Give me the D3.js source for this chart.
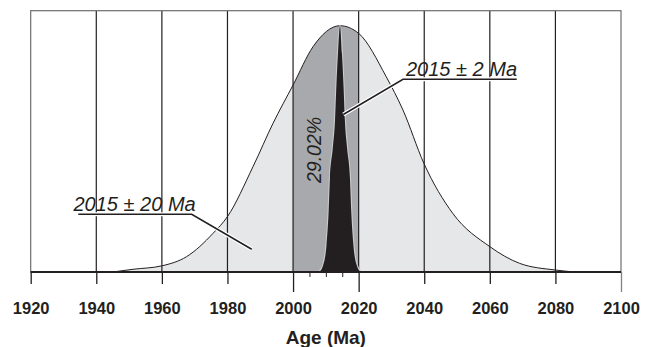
<!DOCTYPE html>
<html>
<head>
<meta charset="utf-8">
<script src="https://cdn.jsdelivr.net/npm/d3@7"></script>
<style>
  html, body { margin: 0; padding: 0; background: #fff; }
  svg text { font-family: "Liberation Sans", Arial, Helvetica, sans-serif; fill: #231f20; }
</style>
</head>
<body>
<div id="chart"></div>
<script>
// Wide distribution (2015 ± 20 Ma), relative density
const wideAge = [1945, 1951.2, 1960, 1967.5, 1975.6, 1980, 1987.8, 1993.9, 2000, 2006.1, 2014.3,
                 2020, 2028.4, 2033.5, 2039.9, 2048.7, 2060, 2069.1, 2080, 2086];
const wideDensity = [0, 0.011, 0.025, 0.062, 0.157, 0.225, 0.428, 0.604, 0.759, 0.915, 1,
                     0.969, 0.793, 0.658, 0.441, 0.238, 0.103, 0.035, 0.008, 0];

// Narrow distribution (2015 ± 2 Ma)
const narrowAge = [2008.0, 2009.2, 2010.2, 2010.85, 2011.25, 2012.1, 2012.8, 2013.2, 2013.7, 2014.3,
                   2014.9, 2015.4, 2015.8, 2016.5, 2017.35, 2017.75, 2018.4, 2019.4, 2020.6];
const narrowDensity = [0, 0.028, 0.11, 0.245, 0.38, 0.5, 0.617, 0.752, 0.888, 1,
                       0.888, 0.752, 0.617, 0.5, 0.38, 0.245, 0.11, 0.028, 0];

// shaded interval and its share
const bandRange = [2000, 2020];
const bandLabel = '29.02%';

const xTicks = [1920, 1940, 1960, 1980, 2000, 2020, 2040, 2060, 2080, 2100];
const longTicks = [2000, 2020, 2100];
const minorTicks = [2005, 2010, 2015];
const gridTicks = [1940, 1960, 1980, 2000, 2020, 2040, 2060, 2080];

const wideLabel = '2015 ± 20 Ma';
const narrowLabel = '2015 ± 2 Ma';
const xTitle = 'Age (Ma)';

const W = 652, H = 347;
const plotLeft = 30.7, plotRight = 621, plotTop = 10.7, base = 272, peakY = 25.7;

const x = d3.scaleLinear().domain([1920, 2100]).range([plotLeft, plotRight]);
const y = d3.scaleLinear().domain([0, 1]).range([base, peakY]);

const svg = d3.select('#chart').append('svg')
  .attr('width', W).attr('height', H);

const wide = wideAge.map((a, i) => ({ age: a, d: wideDensity[i] }));
const narrow = narrowAge.map((a, i) => ({ age: a, d: narrowDensity[i] }));

const area = d3.area()
  .x(d => x(d.age)).y0(y(0)).y1(d => y(d.d))
  .curve(d3.curveMonotoneX);
const line = d3.line()
  .x(d => x(d.age)).y(d => y(d.d))
  .curve(d3.curveMonotoneX);

svg.append('clipPath').attr('id', 'band')
  .append('rect')
  .attr('x', x(bandRange[0])).attr('y', plotTop)
  .attr('width', x(bandRange[1]) - x(bandRange[0]))
  .attr('height', base - plotTop);

// fills
svg.append('path').datum(wide).attr('d', area).attr('fill', '#e6e7e8');
svg.append('path').datum(wide).attr('d', area).attr('fill', '#a7a9ac')
  .attr('clip-path', 'url(#band)');

// vertical grid
svg.append('g').selectAll('line').data(gridTicks).join('line')
  .attr('x1', d => x(d)).attr('x2', d => x(d))
  .attr('y1', plotTop).attr('y2', base)
  .attr('stroke', '#231f20').attr('stroke-width', 1.2);

// frame
svg.append('rect')
  .attr('x', plotLeft).attr('y', plotTop)
  .attr('width', plotRight - plotLeft).attr('height', base - plotTop)
  .attr('fill', 'none').attr('stroke', '#6d6e71').attr('stroke-width', 1.2);

// wide outline
svg.append('path').datum(wide).attr('d', line)
  .attr('fill', 'none').attr('stroke', '#231f20').attr('stroke-width', 1);

// narrow spike with a light halo
svg.append('path').datum(narrow).attr('d', area)
  .attr('fill', '#231f20')
  .attr('stroke', '#c9cacc').attr('stroke-width', 2.2)
  .style('paint-order', 'stroke');

// axis
const axisG = svg.append('g').attr('transform', `translate(0,${base})`);
axisG.call(d3.axisBottom(x).tickValues(xTicks).tickFormat(d3.format('d')).tickSize(12));
axisG.select('.domain').remove();
axisG.selectAll('.tick line')
  .attr('y2', d => longTicks.includes(d) ? 20 : 12)
  .attr('stroke', d => d === 2100 ? '#808285' : '#231f20')
  .attr('stroke-width', 1.3);
axisG.selectAll('.tick text')
  .attr('y', 42).attr('dy', null)
  .attr('fill', '#231f20')
  .style('font-family', '"Liberation Sans", Arial, Helvetica, sans-serif')
  .style('font-size', '16.5px').style('font-weight', 'bold');

const minorG = svg.append('g').attr('transform', `translate(0,${base})`);
minorG.call(d3.axisBottom(x).tickValues(minorTicks).tickFormat('').tickSize(5));
minorG.select('.domain').remove();
minorG.selectAll('.tick line').attr('stroke', '#231f20').attr('stroke-width', 1);

// baseline
svg.append('line')
  .attr('x1', x(1920)).attr('x2', x(2100))
  .attr('y1', base).attr('y2', base)
  .attr('stroke', '#231f20').attr('stroke-width', 2.2);

svg.append('text')
  .attr('x', (plotLeft + plotRight) / 2).attr('y', 343.5)
  .attr('text-anchor', 'middle')
  .style('font-size', '19px').style('font-weight', 'bold')
  .text(xTitle);

// band percentage
svg.append('text')
  .attr('transform', `translate(321,150) rotate(-90)`)
  .attr('text-anchor', 'middle')
  .style('font-size', '19.5px').style('font-style', 'italic')
  .text(bandLabel);

// callouts
function callout(pts, label, tx, ty) {
  const l = d3.line();
  svg.append('path').attr('d', l(pts))
    .attr('fill', 'none').attr('stroke', '#fff').attr('stroke-width', 4);
  svg.append('path').attr('d', l(pts))
    .attr('fill', 'none').attr('stroke', '#231f20').attr('stroke-width', 1.6);
  svg.append('text')
    .attr('x', tx).attr('y', ty)
    .style('font-size', '20px').style('font-style', 'italic')
    .text(label);
}

callout([[78.3, 214.3], [191.7, 214.3], [251.7, 249.3]], wideLabel, 73.5, 210.5);
callout([[516.7, 79.3], [403, 79.3], [343.3, 114.5]], narrowLabel, 406, 76);
</script>
</body>
</html>
